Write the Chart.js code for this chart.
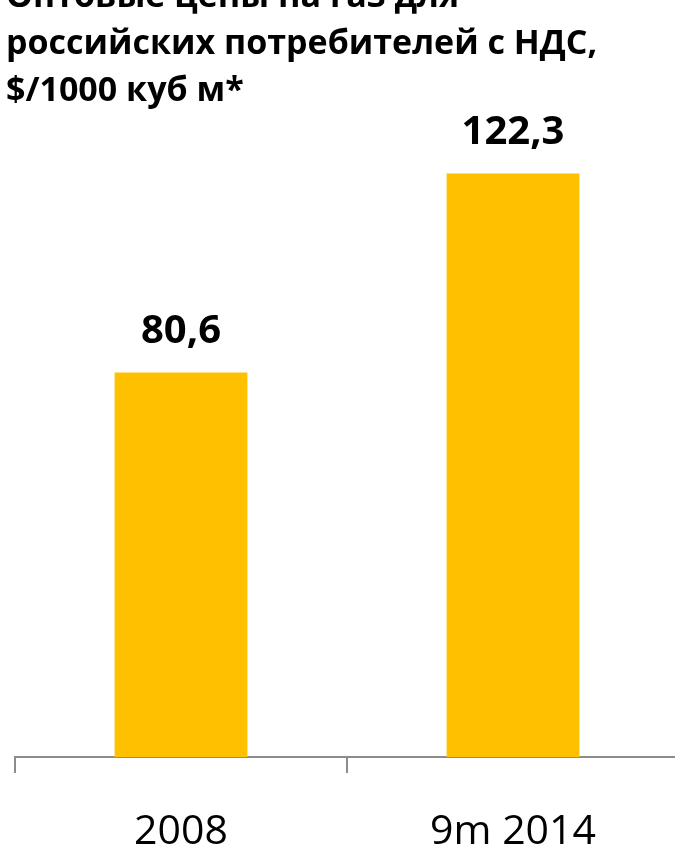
<!DOCTYPE html>
<html lang="ru">
<head>
<meta charset="utf-8">
<script src="https://cdn.jsdelivr.net/npm/chart.js@4/dist/chart.umd.min.js"></script>
<style>
  html, body { margin: 0; padding: 0; background: #fff; overflow: hidden; }
  #wrap { position: relative; width: 680px; height: 849px; overflow: hidden; }
  #title {
    position: absolute; left: 6px; top: -29px; margin: 0;
    font: bold 34px "Open Sans", sans-serif; line-height: 47px; color: #000;
    white-space: nowrap; z-index: 2;
  }
</style>
</head>
<body>
<div id="wrap">
  <h1 id="title">Оптовые цены на газ для<br>российских потребителей с НДС,<br>$/1000 куб м*</h1>
  <canvas id="gasChart" width="680" height="849"></canvas>
</div>
<script>
const periods = ["2008", "9m 2014"];
const prices = [80.6, 122.3];
const valueLabels = ["80,6", "122,3"];

// Value labels above each bar
const barLabels = {
  id: "barLabels",
  afterDatasetsDraw(chart) {
    const { ctx } = chart;
    const meta = chart.getDatasetMeta(0);
    ctx.save();
    ctx.font = "bold 40px 'Open Sans', sans-serif";
    ctx.fillStyle = "#000";
    ctx.textAlign = "center";
    ctx.textBaseline = "alphabetic";
    meta.data.forEach((bar, i) => {
      ctx.fillText(valueLabels[i], bar.x, bar.y - 29);
    });
    ctx.restore();
  },
};

const ctx = document.getElementById("gasChart").getContext("2d");
new Chart(ctx, {
  type: "bar",
  data: {
    labels: periods,
    datasets: [
      {
        data: prices,
        backgroundColor: "#FFC000",
        borderWidth: 0,
        categoryPercentage: 1,
        barPercentage: 0.4,
      },
    ],
  },
  options: {
    responsive: false,
    animation: false,
    // tick padding is counted twice in the axis height, so pull the bottom in
    layout: { padding: { left: 15, right: 1, top: 89, bottom: -43 } },
    plugins: { legend: { display: false }, tooltip: { enabled: false } },
    scales: {
      x: {
        offset: true,
        border: { display: true, color: "#8c8c8c", width: 2 },
        grid: {
          offset: true,
          drawOnChartArea: false,
          drawTicks: true,
          tickLength: 16,
          color: "#8c8c8c",
          lineWidth: 2,
        },
        ticks: {
          color: "#000",
          font: { family: "'Open Sans', sans-serif", size: 41, lineHeight: 1 },
          padding: 39,
        },
      },
      y: {
        display: false,
        min: 0,
        max: 140,
      },
    },
  },
  plugins: [barLabels],
});
</script>
</body>
</html>
